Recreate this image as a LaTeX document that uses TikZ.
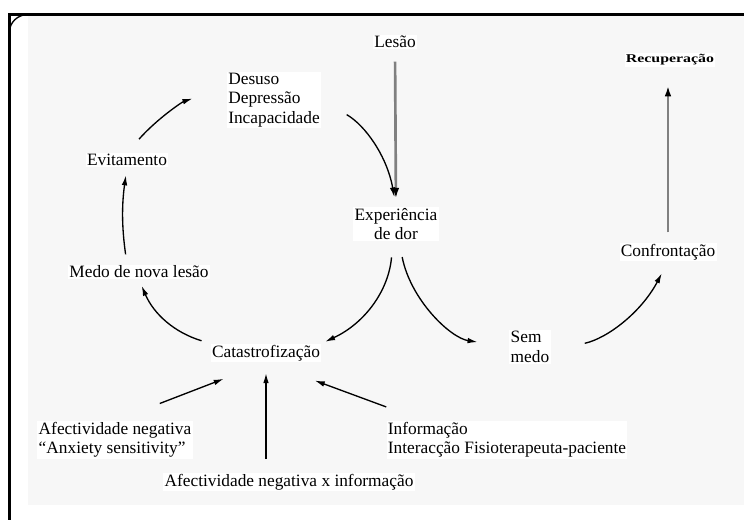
\documentclass[tikz,border=0pt]{standalone}
\usepackage{fontspec}
\setmainfont{Liberation Serif}
\usepackage{graphicx}
\usepackage{tikz}
\usetikzlibrary{arrows.meta,calc,positioning}
\tikzset{%
	lbl/.style      = {inner sep=1pt, fill=white, font=\fontsize{13}{14.5}\selectfont}, % Text
	lblsmall/.style = {inner sep=1pt, fill=white, font=\fontsize{8.5}{10}\bfseries}, % Small text
	flow/.style     = {line width=1pt, -{Latex[length=7.5pt,width=4.2pt]}}, % Cycle arrow
	trunk/.style    = {line width=2pt, black!50, -{Latex[length=8pt,width=5pt,black]}}, % Gray arrow
}

\begin{document}
\begin{tikzpicture}[x=0.75pt,y=0.75pt]
	\useasboundingbox (0,0) rectangle (744,520);
	\fill[black!3] (28,15) rectangle (744,504);
	\draw[line width=2pt] (9.5,0) -- (9.5,505.5) -- (744,505.5);
	\draw[line width=1pt] (9.5,488) arc[start angle=180, end angle=90, x radius=18.5, y radius=17.5];

	\node [lbl] (les) at (395,478) {Lesão};
	\node [lbl,align=left] (des) at (274,420) {Desuso\\Depressão\\Incapacidade};
	\node [lbl,align=center] (exp) at (396,296) {Experiência\\de dor};
	\node [lblsmall] (rec) at (670,460) {\scalebox{1.4}[1.05]{Recuperação}};
	\node [lbl] (con) at (668,268) {Confrontação};
	\node [lbl,align=left] (sem) at (530,173) {Sem\\medo};
	\node [lbl] (cat) at (266,167) {Catastrofização};
	\node [lbl] (medo) at (139,248) {Medo de nova lesão};
	\node [lbl] (evi) at (127,360) {Evitamento};
	\node [lbl,align=left] (afn) at (115,80) {Afectividade negativa\\``Anxiety sensitivity''};
	\node [lbl] (afx) at (289,38) {Afectividade negativa x informação};
	\node [lbl,align=left] (inf) at (507,80) {Informação\\Interacção Fisioterapeuta-paciente};

	\draw[trunk, shorten <=9pt, shorten >=6pt] (les.south) -- (exp.north);
	\draw[flow, shorten <=22pt, shorten >=7pt] (des.east) to[bend left=25] (exp.north);
	\draw[flow, shorten <=12pt, shorten >=24pt] (exp.-80) to[bend right=35] (sem.west);
	\draw[flow, shorten <=12pt, shorten >=3pt] (exp.-100) to[bend left=30] (cat.north east);
	\draw[flow, shorten <=26pt, shorten >=10pt] (sem.-10) to[bend right=25] (con.south);
	\draw[trunk, shorten <=7.5pt, shorten >=14pt] (con.north) -- (con.north |- rec.south);
	\draw[flow, shorten <=7pt, shorten >=5pt] (cat.north west) to[bend left=25] (medo.south);
	\draw[flow, shorten <=7.5pt, shorten >=6pt] (medo.north -| evi) to[bend left=8] (evi.south);
	\draw[flow, shorten <=13.5pt, shorten >=27pt] (evi.north) to[bend left=15] (des.165);

	\draw[flow, shorten <=36pt, shorten >=34pt] (afn.north) -- (cat.south);
	\draw[flow, shorten <=10pt, shorten >=8pt] (afx.north -| cat) -- (cat.south);
	\draw[flow, shorten <=30pt, shorten >=39pt] (inf.167) -- (cat.south);
\end{tikzpicture}
\end{document}
